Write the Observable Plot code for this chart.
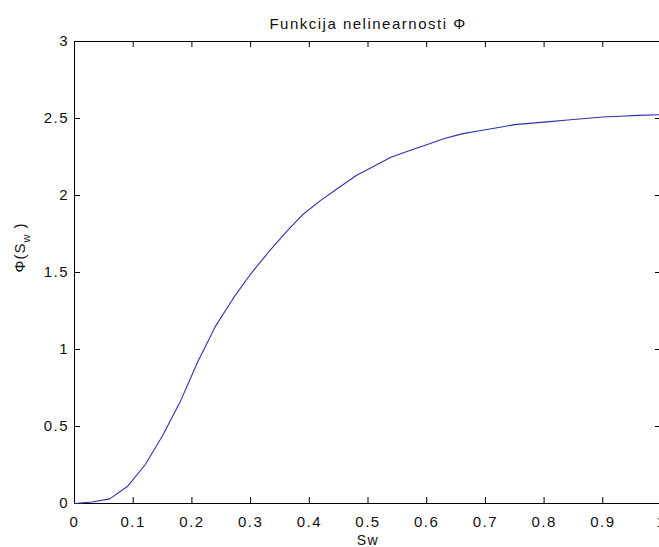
<!DOCTYPE html>
<html>
<head>
<meta charset="utf-8">
<script src="https://cdn.jsdelivr.net/npm/d3@7"></script>
<script src="https://cdn.jsdelivr.net/npm/@observablehq/plot@0.6"></script>
<style>
  html, body { margin: 0; padding: 0; background: #fff; overflow: hidden; }
  .ticklab text { letter-spacing: 1.5px; }
</style>
</head>
<body>
<div id="chart"></div>
<script>
const sw  = [0, 0.03, 0.06, 0.09, 0.12, 0.15, 0.18, 0.21, 0.24, 0.27, 0.30, 0.33, 0.36, 0.39, 0.42, 0.45, 0.48, 0.51, 0.54, 0.57, 0.60, 0.63, 0.66, 0.69, 0.72, 0.75, 0.78, 0.81, 0.84, 0.87, 0.90, 0.93, 0.96, 1.0];
const phi = [0, 0.01, 0.03, 0.11, 0.25, 0.44, 0.66, 0.92, 1.15, 1.33, 1.49, 1.63, 1.76, 1.88, 1.97, 2.05, 2.13, 2.19, 2.25, 2.29, 2.33, 2.37, 2.40, 2.42, 2.44, 2.46, 2.47, 2.48, 2.49, 2.50, 2.51, 2.515, 2.52, 2.525];

const xTicks = [0, 0.1, 0.2, 0.3, 0.4, 0.5, 0.6, 0.7, 0.8, 0.9, 1];
const xTickLabels = ["0", "0.1", "0.2", "0.3", "0.4", "0.5", "0.6", "0.7", "0.8", "0.9", "1"];
const yTicks = [0, 0.5, 1, 1.5, 2, 2.5, 3];
const yTickLabels = ["0", "0.5", "1", "1.5", "2", "2.5", "3"];

const titleText = "Funkcija nelinearnosti Φ";
const xLabel = "Sw";
const yLabel = "Φ(Sw)";

const data = sw.map((x, i) => ({x, y: phi[i]}));

const W = 659, H = 547, ML = 74, MR = -2, MT = 41, MB = 44, TICK = 6;
const plotW = W - ML - MR, plotH = H - MT - MB;

const chart = Plot.plot({
  width: W,
  height: H,
  marginLeft: ML,
  marginRight: MR,
  marginTop: MT,
  marginBottom: MB,
  x: {domain: [0, 1]},
  y: {domain: [0, 3]},
  style: {fontFamily: "'Liberation Sans', Arial, sans-serif", fontSize: "15px", color: "#000", background: "#fff"},
  marks: [
    Plot.axisX(xTicks, {anchor: "bottom", tickSize: 0, tickPadding: 13, tickFormat: (d, i) => xTickLabels[i], label: null, fill: "#111", className: "ticklab"}),
    Plot.axisY(yTicks, {anchor: "left", tickSize: 0, tickPadding: 5.5, tickFormat: (d, i) => yTickLabels[i], label: null, fill: "#111", className: "ticklab"}),
    // inward ticks on all four sides
    Plot.tickX(xTicks, {x: d => d, insetTop: plotH - TICK, stroke: "#000"}),
    Plot.tickX(xTicks, {x: d => d, insetBottom: plotH - TICK, stroke: "#000"}),
    Plot.tickY(yTicks, {y: d => d, insetRight: plotW - TICK, stroke: "#000"}),
    Plot.tickY(yTicks, {y: d => d, insetLeft: plotW - TICK, stroke: "#000"}),
    Plot.frame({stroke: "#000", strokeWidth: 1}),
    Plot.line(data, {x: "x", y: "y", stroke: "#2f2fb0", strokeWidth: 1.1}),
    Plot.text([titleText], {frameAnchor: "top", dy: -23, fontSize: 15, fill: "#111", className: "ticklab"}),
    Plot.text([xLabel], {frameAnchor: "bottom", dy: 41, fontSize: 14, fill: "#111", className: "ticklab"}),
    Plot.text([yLabel], {frameAnchor: "left", dx: -54, rotate: -90, fontSize: 15, fill: "#111", className: "ylab"})
  ]
});

document.getElementById("chart").appendChild(chart);

// render subscript in y label
const yl = chart.querySelector(".ylab text");
if (yl) {
  yl.textContent = "";
  const ns = "http://www.w3.org/2000/svg";
  const t1 = document.createElementNS(ns, "tspan"); t1.textContent = "Φ(S";
  const t2 = document.createElementNS(ns, "tspan"); t2.textContent = "w"; t2.setAttribute("dy", "5"); t2.setAttribute("font-size", "11");
  const t3 = document.createElementNS(ns, "tspan"); t3.textContent = " )"; t3.setAttribute("dy", "-5");
  yl.append(t1, t2, t3);
  yl.style.letterSpacing = "1px";
}
</script>
</body>
</html>
